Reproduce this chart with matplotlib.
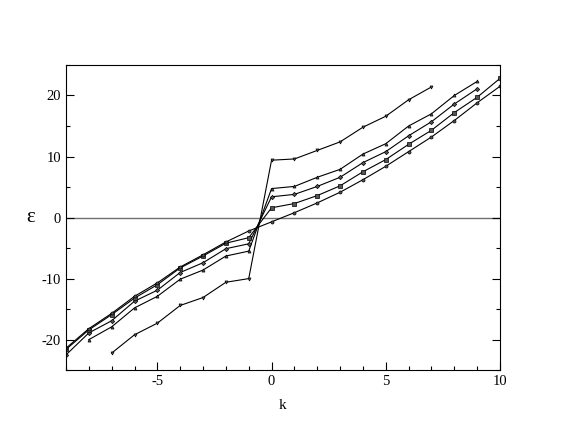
import numpy as np
import matplotlib
matplotlib.use("Agg")
from matplotlib import pyplot as plt
from matplotlib.ticker import MultipleLocator

plt.rcParams['font.family'] = ['Liberation Serif', 'DejaVu Serif']
plt.rcParams['axes.unicode_minus'] = False

# energy levels for each branch
k1 = list(range(-7, 8))
e1 = [-22.2, -19.2, -17.3, -14.4, -13.1, -10.6, -10.0,
      9.4, 9.6, 11.0, 12.4, 14.8, 16.6, 19.3, 21.4]

k2 = list(range(-8, 10))
e2 = [-20.0, -17.9, -14.8, -12.9, -10.1, -8.6, -6.3, -5.5,
      4.75, 5.1, 6.6, 7.9, 10.4, 12.1, 15.0, 17.0, 20.0, 22.3]

k3 = list(range(-9, 10))
e3 = [-22.5, -18.9, -16.9, -13.7, -11.9, -9.0, -7.4, -5.1, -4.3,
      3.4, 3.8, 5.1, 6.6, 9.0, 10.8, 13.4, 15.7, 18.6, 21.1]

k4 = list(range(-9, 11))
e4 = [-21.6, -18.4, -15.9, -13.2, -11.0, -8.25, -6.3, -4.2, -3.3,
      1.6, 2.3, 3.6, 5.2, 7.5, 9.5, 12.0, 14.3, 17.2, 19.7, 22.8]

k5 = list(range(-9, 11))
e5 = [-21.4, -18.2, -15.7, -12.9, -10.7, -8.1, -6.1, -4.0, -2.2,
      -0.7, 0.8, 2.4, 4.15, 6.2, 8.4, 10.8, 13.2, 15.9, 18.8, 21.5]

series = [(k1, e1, 'v'), (k2, e2, '^'), (k3, e3, 'D'), (k4, e4, 's'), (k5, e5, 'o')]

fig = plt.figure(figsize=(5.64, 4.36), dpi=100)
ax = fig.add_axes([0.117, 0.151, 0.7695, 0.70])

ax.axhline(0, color='#707070', lw=1.0, zorder=1)
for k, e, m in series:
    ax.plot(k, e, '-', color='black', lw=0.8, marker=m, ms=2.2,
            mfc='#555555', mec='black', mew=0.5, zorder=2)

ax.set_xlim(-9, 10)
ax.set_ylim(-25, 25)
ax.xaxis.set_major_locator(MultipleLocator(5))
ax.xaxis.set_minor_locator(MultipleLocator(1))
ax.yaxis.set_major_locator(MultipleLocator(10))
ax.yaxis.set_minor_locator(MultipleLocator(5))
ax.tick_params(which='both', direction='in', top=False, right=True,
               labelsize=10.5, width=0.8)
ax.tick_params(which='major', length=6)
ax.tick_params(which='minor', length=3)
for s in ax.spines.values():
    s.set_linewidth(0.8)

ax.set_xlabel('k', fontsize=11, labelpad=8)
ax.set_ylabel('ε', fontsize=15, rotation=0, labelpad=8, va='center')

fig.savefig('out.png', dpi=100)
